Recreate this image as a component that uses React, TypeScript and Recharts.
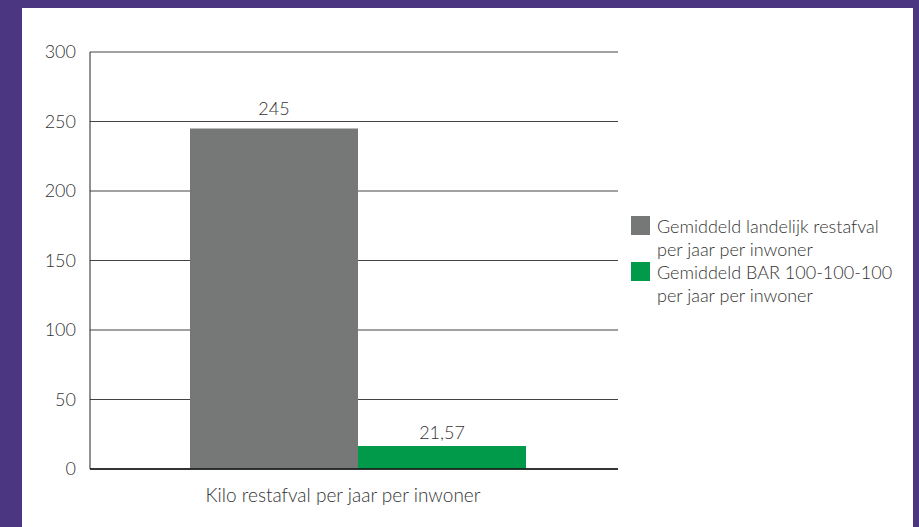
import { BarChart, Bar, XAxis, YAxis, CartesianGrid, Legend, LabelList } from 'recharts'

// ── data ─────────────────────────────────────────────────────────────────────
const categories = ['Kilo restafval per jaar per inwoner']
const landelijk = [245]
const bar100 = [16.5] // height as drawn in the source; its label reads 21,57
const landelijkLabels = ['245']
const bar100Labels = ['21,57']
const yTicks = [0, 50, 100, 150, 200, 250, 300]
const seriesNames = ['Gemiddeld landelijk restafval', 'Gemiddeld BAR 100-100-100']
const legendSubLine = 'per jaar per inwoner'

const data = categories.map((name, i) => ({
  name,
  landelijk: landelijk[i],
  bar100: bar100[i],
  landelijkLabel: landelijkLabels[i],
  bar100Label: bar100Labels[i],
}))

const FONT = 'Lato, "Open Sans", sans-serif'
const TEXT = '#333'
const GREY = '#767877'
const GREEN = '#009a4a'
const PURPLE = '#4b3682'

function LegendBox({ payload }: { payload?: { value: string; color: string }[] }) {
  // keep the series order, recharts sorts the legend by name otherwise
  const items = [...(payload ?? [])].sort(
    (a, b) => seriesNames.indexOf(a.value) - seriesNames.indexOf(b.value),
  )
  return (
    <div style={{ fontFamily: FONT, fontSize: 18, fontWeight: 300, color: TEXT, lineHeight: '23px' }}>
      {items.map((p, i) => (
        <div key={i} style={{ position: 'relative', paddingLeft: 26 }}>
          <span
            style={{ position: 'absolute', left: 0, top: 1, width: 19, height: 19, background: p.color }}
          />
          <div>{p.value}</div>
          <div>{legendSubLine}</div>
        </div>
      ))}
    </div>
  )
}

export default function App() {
  return (
    <div style={{ position: 'absolute', left: 0, top: 0, width: 919, height: 527, background: PURPLE }}>
      <div style={{ position: 'absolute', left: 22, top: 8, width: 891, height: 519, background: '#fff' }}>
        <BarChart
          width={891}
          height={519}
          data={data}
          margin={{ top: 44, right: 295, bottom: 28, left: 0 }}
          barGap={0}
          barSize={168}
        >
          <CartesianGrid vertical={false} stroke="#444" strokeWidth={1} />
          <XAxis
            dataKey="name"
            padding={{ left: 8, right: 0 }}
            height={30}
            tickLine={false}
            tickSize={0}
            tickMargin={20}
            axisLine={{ stroke: '#111', strokeWidth: 1.5 }}
            tick={{ fontSize: 19, fill: TEXT, fontFamily: FONT, fontWeight: 300, dx: -15 }}
          />
          <YAxis
            domain={[0, 300]}
            ticks={yTicks}
            width={68}
            tickLine={false}
            tickSize={0}
            tickMargin={14}
            axisLine={{ stroke: '#222' }}
            tick={{ fontSize: 18, fill: TEXT, fontFamily: FONT, fontWeight: 300 }}
          />
          <Legend
            layout="vertical"
            align="center"
            verticalAlign="middle"
            wrapperStyle={{ left: 609, top: 207, width: 280 }}
            content={(props: any) => <LegendBox payload={props.payload} />}
          />
          <Bar dataKey="landelijk" name={seriesNames[0]} fill={GREY} isAnimationActive={false}>
            <LabelList
              dataKey="landelijkLabel"
              position="top"
              offset={13}
              style={{ fontSize: 18, fill: TEXT, fontFamily: FONT, fontWeight: 300 }}
            />
          </Bar>
          <Bar dataKey="bar100" name={seriesNames[1]} fill={GREEN} isAnimationActive={false}>
            <LabelList
              dataKey="bar100Label"
              position="top"
              offset={7}
              style={{ fontSize: 18, fill: TEXT, fontFamily: FONT, fontWeight: 300 }}
            />
          </Bar>
        </BarChart>
      </div>
    </div>
  )
}
